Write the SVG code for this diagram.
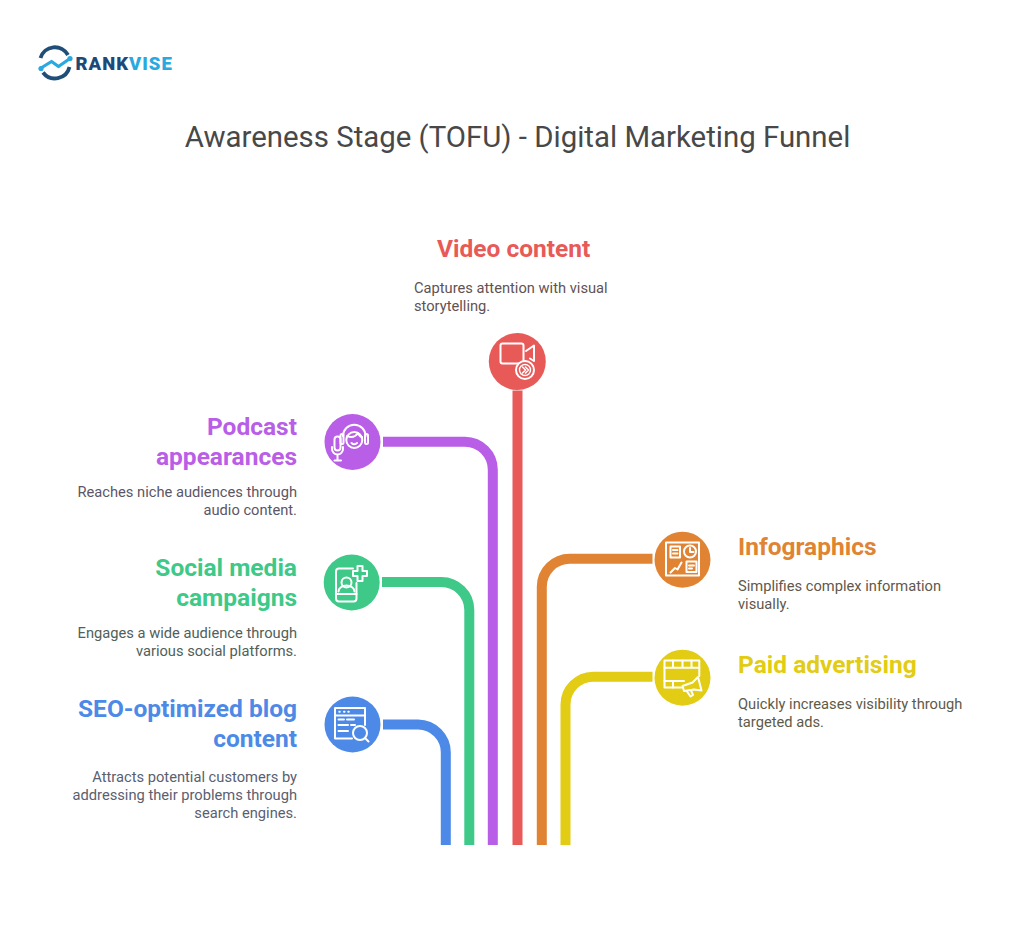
<svg xmlns="http://www.w3.org/2000/svg" width="1024" height="927" viewBox="0 0 1024 927">
<style>
text{font-family:Roboto,"Liberation Sans",sans-serif}
.t{font-size:29.4px;fill:#484848}
.h{font-size:24.500px;font-weight:700}
.d{font-size:14.700px}
.e{text-anchor:end}
.c{fill:none;stroke-width:10}
.i{fill:none;stroke:#fff;stroke-width:2;stroke-linecap:round;stroke-linejoin:round}
</style>
<rect width="1024" height="927" fill="#fff"/>
<g id="logo">
<path d="M40.500 58A15 15 0 0 1 68 55M43 72.500A15 15 0 0 0 69.500 67" fill="none" stroke="#1f4e79" stroke-width="3.800"/>
<path d="M41 68L51.500 61.500L58.500 66.500L70 58.500" fill="none" stroke="#2aa8e0" stroke-width="3.200" stroke-linejoin="round"/>
<circle cx="41" cy="68.500" r="2.600" fill="#2aa8e0"/><circle cx="70" cy="58.500" r="2.600" fill="#2aa8e0"/>
<text x="75.500" y="70" font-size="18.500" font-weight="900" letter-spacing="1" fill="#1c4a78">RANK<tspan fill="#2aa8e0">VISE</tspan></text>
</g>
<text class="t" x="517.500" y="147" text-anchor="middle">Awareness Stage (TOFU) - Digital Marketing Funnel</text>
<g id="connectors">
<path class="c" stroke="#e85a58" d="M517.500 390.500V845"/>
<path class="c" stroke="#b95ee6" d="M383 441.700H465A28 28 0 0 1 492.800 469.700V845"/>
<path class="c" stroke="#3ec988" d="M382 582H441A28 28 0 0 1 469.300 610V845"/>
<path class="c" stroke="#4d8ae8" d="M383 724.500H418A28 28 0 0 1 445.800 752.500V845"/>
<path class="c" stroke="#e08433" d="M652.500 558.700H570A28 28 0 0 0 541.800 586.700V845"/>
<path class="c" stroke="#e2cc14" d="M652.500 676.700H593A28 28 0 0 0 565.500 704.700V845"/>
</g>
<g id="video">
<circle cx="517.300" cy="361.500" r="28.500" fill="#e85a58"/>
<g class="i"><rect x="500.500" y="343.500" width="23" height="20" rx="2"/><path d="M526 351L534 345.500V361L530 358.500"/><circle cx="525" cy="370" r="9" fill="#e85a58"/><circle cx="525" cy="370" r="5.500" stroke-width="1.400"/><path d="M522.500 367L525.500 370L522.500 373M525.500 367L528.500 370L525.500 373" stroke-width="1.600"/></g>
<text class="h" x="437" y="257.300" fill="#e85a58">Video content</text>
<text class="d" fill="#625252" x="414" y="293">Captures attention with visual</text>
<text class="d" fill="#625252" x="414" y="311">storytelling.</text>
</g>
<g id="podcast">
<circle cx="352.500" cy="442" r="28" fill="#b95ee6"/>
<g class="i"><path d="M343 436A11.300 11.300 0 0 1 365.600 436"/><circle cx="354.300" cy="440" r="8"/><path d="M347 436Q354 439 358 433Q360 437 362 437"/><rect x="340.500" y="434" width="3" height="10" rx="1.500"/><rect x="365" y="434" width="3" height="10" rx="1.500"/><path d="M351.500 443Q354 445.500 357 443"/><rect x="334.500" y="436.500" width="6" height="14" rx="3"/><path d="M332 447V449A5.500 5.500 0 0 0 343 449V447M337.500 454.500V460M334.500 460.500H341"/></g>
<text class="h e" x="297" y="435.300" fill="#b95ee6">Podcast</text>
<text class="h e" x="297" y="465.300" fill="#b95ee6">appearances</text>
<text class="d e" fill="#5c5566" x="297" y="497">Reaches niche audiences through</text>
<text class="d e" fill="#5c5566" x="297" y="515">audio content.</text>
</g>
<g id="social">
<circle cx="351.700" cy="582.500" r="28" fill="#3ec988"/>
<g class="i"><path d="M353 568.500H339Q336 568.500 336 571.500V598.500Q336 601.500 339 601.500H353.500Q356.500 601.500 356.500 598.500V583"/><path d="M336 594H356.500"/><circle cx="346.500" cy="582.500" r="5"/><path d="M338.500 591.500A8 6 0 0 1 354.500 591.500"/><path d="M357.500 566H362.500V571H367V576H362.500V581H357.500V576H353V571H357.500Z"/></g>
<text class="h e" x="297" y="576.300" fill="#3ec988">Social media</text>
<text class="h e" x="297" y="606.300" fill="#3ec988">campaigns</text>
<text class="d e" fill="#50605a" x="297" y="638">Engages a wide audience through</text>
<text class="d e" fill="#50605a" x="297" y="656">various social platforms.</text>
</g>
<g id="seo">
<circle cx="352.500" cy="724.500" r="28" fill="#4d8ae8"/>
<g class="i"><path d="M352 738.500H335V708H365V725"/><path d="M335 715.500H365"/><path d="M339.300 711.800H339.800M344 711.800H344.500M348.300 711.800H348.800M338.500 719.500H344M347 719.500H354M338.500 725H348M351 725H355M338.500 731H348"/><circle cx="360" cy="733" r="7"/><path d="M365 738L368.500 741.500"/></g>
<text class="h e" x="297" y="717.300" fill="#4d8ae8">SEO-optimized blog</text>
<text class="h e" x="297" y="747.300" fill="#4d8ae8">content</text>
<text class="d e" fill="#5a6070" x="297" y="782">Attracts potential customers by</text>
<text class="d e" fill="#5a6070" x="297" y="800">addressing their problems through</text>
<text class="d e" fill="#5a6070" x="297" y="818">search engines.</text>
</g>
<g id="infographics">
<circle cx="682.500" cy="559.700" r="28" fill="#e08433"/>
<g class="i"><rect x="666" y="542.500" width="33" height="33"/><rect x="670.500" y="546.500" width="9.500" height="11"/><path d="M673 550H677.500M673 553.500H677.500"/><circle cx="690" cy="551.500" r="6"/><path d="M690 548V552H693.500"/><path d="M670.500 572.500L675 568L677.500 569.500L681.500 562.500"/><rect x="686.500" y="561.500" width="10" height="10.500"/><path d="M689 565.500H694M689 568.500H692"/></g>
<text class="h" x="738" y="555.300" fill="#e08433">Infographics</text>
<text class="d" fill="#61574c" x="738" y="591">Simplifies complex information</text>
<text class="d" fill="#61574c" x="738" y="609">visually.</text>
</g>
<g id="paid">
<circle cx="682.500" cy="677.700" r="28" fill="#e2cc14"/>
<g class="i"><path d="M699.300 676V660.500H664.500V687.500H681.500"/><path d="M664.500 667.700H699.300M664.500 681H684M673 660.500V667.700M682.500 660.500V667.700M691.500 660.500V667.700M673 681V687.500"/><path d="M682.500 686L692.500 682.500L698 677L701.500 690.500L694 689.500L684 691Z" fill="#e2cc14"/><path d="M687 691.500L690.500 696.500L693 695L691 690.500"/></g>
<text class="h" x="738" y="673.300" fill="#e2cc14">Paid advertising</text>
<text class="d" fill="#5e5a48" x="738" y="709">Quickly increases visibility through</text>
<text class="d" fill="#5e5a48" x="738" y="727">targeted ads.</text>
</g>
</svg>
